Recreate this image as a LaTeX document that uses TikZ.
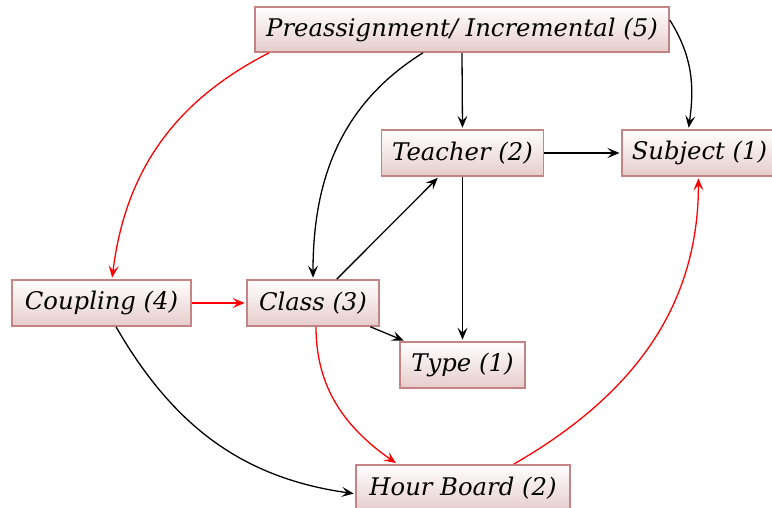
\documentclass[tikz,border=0pt]{standalone}
\usepackage{fontspec}
\setmainfont{DejaVu Serif}
\usetikzlibrary{arrows.meta,shadings}
\definecolor{boxline}{RGB}{196,132,132}
\definecolor{boxbottom}{RGB}{230,204,204}
\tikzset{
  box/.style={draw=boxline, line width=1.6pt, top color=white, bottom color=boxbottom,
    minimum height=46pt, inner xsep=10pt, inner ysep=0pt,
    font=\fontsize{24.3}{28}\selectfont\itshape},
  arr/.style={-{Stealth[length=12pt,width=10pt,inset=5pt]}, line width=1.3pt, shorten >=1.5pt},
  blk/.style={arr, black},
  rd/.style={arr, red},
}
\begin{document}
\begin{tikzpicture}[x=1pt,y=1pt]
\useasboundingbox (0,0) rectangle (772,508);
\node[box, minimum width=414pt, minimum height=45pt] (pre) at (462,478.5) {Preassignment/ Incremental (5)};
\node[box, minimum width=162pt] (teacher) at (462.5,355) {Teacher (2)};
\node[box, anchor=west] (subject) at (621,355) {Subject (1)};
\node[box, minimum width=179pt] (coupling) at (101.5,205) {Coupling (4)};
\node[box, minimum width=132pt] (class) at (313,205) {Class (3)};
\node[box, minimum width=125pt] (type) at (462.5,143) {Type (1)};
\node[box, anchor=north, minimum width=214pt] (hour) at (463,44) {Hour Board (2)};

\draw[blk] (pre.south) -- (teacher.north);
\draw[blk] ([yshift=9.5pt]pre.east) to[out=-58,in=82] ([xshift=-11pt]subject.north);
\draw[blk] ([xshift=-39pt]pre.south) to[out=-148,in=90] (class.north);
\draw[rd] ([xshift=15pt]pre.south west) to[out=-153,in=83] ([xshift=10.5pt]coupling.north);
\draw[blk] (teacher.east) -- (subject.west);
\draw[blk] (teacher.south) -- (type.north);
\draw[blk] (class) -- (teacher);
\draw[blk] (class) -- (type);
\draw[rd] (coupling.east) -- (class.west);
\draw[rd] ([xshift=3pt]class.south) to[out=-90,in=145] ([xshift=42pt]hour.north west);
\draw[blk] ([xshift=14.5pt]coupling.south) to[out=-60,in=172] ([yshift=-6pt]hour.west);
\draw[rd] ([xshift=51pt]hour.north) to[out=30,in=-90] ([xshift=-1pt]subject.south);
\end{tikzpicture}
\end{document}
